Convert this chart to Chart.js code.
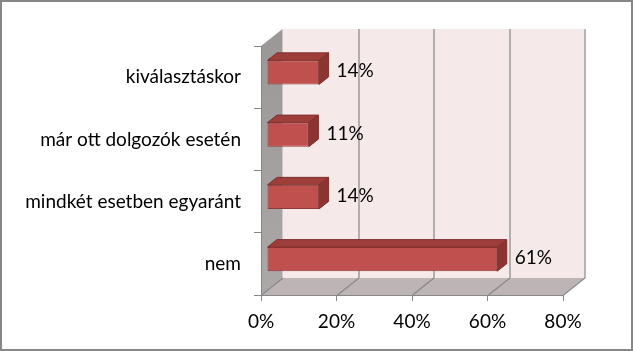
<!DOCTYPE html>
<html><head><meta charset="utf-8">
<script src="https://cdn.jsdelivr.net/npm/chart.js@4/dist/chart.umd.min.js"></script>
<style>html,body{margin:0;padding:0;background:#fff}</style>
</head><body>
<canvas id="c" width="633" height="351"></canvas>
<script>
// ---- data ----
const categories = ['kiválasztáskor', 'már ott dolgozók esetén', 'mindkét esetben egyaránt', 'nem'];
const values = [0.138, 0.111, 0.138, 0.61];
const valueLabels = ['14%', '11%', '14%', '61%'];
const xTickValues = [0, 0.2, 0.4, 0.6, 0.8];
const xTickLabels = ['0%', '20%', '40%', '60%', '80%'];

// ---- style ----
const FONT = 'Lato';
const FSIZE = 19;
const DEPTH = { x: 21.5, y: -17 };
const BAR_FRONT = 0.28, BAR_BACK = 0.72;
const AXIS_COLOR = '#878787';

const threeD = {
  id: 'threeD',
  beforeDraw(chart) {
    const { ctx, chartArea: a, scales: { x } } = chart;
    const L = a.left, R = a.right, T = a.top, B = a.bottom, dx = DEPTH.x, dy = DEPTH.y;
    ctx.save();
    // back wall
    ctx.fillStyle = '#F5E9E9';
    ctx.fillRect(L + dx, T + dy, R - L, B - T);
    // left wall
    const g = ctx.createLinearGradient(0, T, 0, B);
    g.addColorStop(0, '#9C9898');
    g.addColorStop(1, '#ADA8A8');
    ctx.fillStyle = g;
    ctx.beginPath();
    ctx.moveTo(L, T); ctx.lineTo(L + dx, T + dy); ctx.lineTo(L + dx, B + dy); ctx.lineTo(L, B); ctx.closePath();
    ctx.fill();
    // floor
    ctx.fillStyle = '#BDB5B5';
    ctx.beginPath();
    ctx.moveTo(L, B); ctx.lineTo(L + dx, B + dy); ctx.lineTo(R + dx, B + dy); ctx.lineTo(R, B); ctx.closePath();
    ctx.fill();
    // grid lines
    ctx.strokeStyle = AXIS_COLOR;
    ctx.lineWidth = 1.2;
    xTickValues.forEach((v, i) => {
      const px = Math.round(x.getPixelForValue(v)) + 0.5;
      ctx.beginPath();
      ctx.moveTo(px, B);
      ctx.lineTo(px + dx, B + dy);
      if (i > 0) ctx.lineTo(px + dx, T + dy);
      ctx.stroke();
    });
    ctx.restore();
  },
  beforeDatasetDraw(chart) {
    chart.ctx.save();
    chart.ctx.translate(DEPTH.x * BAR_FRONT, DEPTH.y * BAR_FRONT);
  },
  afterDatasetDraw(chart, args) {
    const ctx = chart.ctx;
    const bx = DEPTH.x * (BAR_BACK - BAR_FRONT), by = DEPTH.y * (BAR_BACK - BAR_FRONT);
    args.meta.data.forEach(el => {
      const h = el.height, top = el.y - h / 2, bot = el.y + h / 2;
      ctx.lineWidth = 1;
      ctx.strokeStyle = '#7F302E';
      // top face
      ctx.fillStyle = '#9E3E3B';
      ctx.beginPath();
      ctx.moveTo(el.base, top); ctx.lineTo(el.x, top); ctx.lineTo(el.x + bx, top + by); ctx.lineTo(el.base + bx, top + by); ctx.closePath();
      ctx.fill(); ctx.stroke();
      // side face
      ctx.fillStyle = '#8B3431';
      ctx.beginPath();
      ctx.moveTo(el.x, top); ctx.lineTo(el.x + bx, top + by); ctx.lineTo(el.x + bx, bot + by); ctx.lineTo(el.x, bot); ctx.closePath();
      ctx.fill(); ctx.stroke();
    });
    ctx.restore();
  },
  afterDatasetsDraw(chart) {
    const ctx = chart.ctx;
    const meta = chart.getDatasetMeta(0);
    ctx.save();
    ctx.font = FSIZE + 'px ' + FONT;
    ctx.fillStyle = '#000';
    ctx.textAlign = 'left';
    ctx.textBaseline = 'middle';
    meta.data.forEach((el, i) => {
      const px = el.x + DEPTH.x * BAR_BACK + 8;
      const py = el.y + DEPTH.y * BAR_FRONT - 1;
      ctx.fillText(valueLabels[i], px, py);
    });
    ctx.restore();
  },
  afterDraw(chart) {
    const ctx = chart.ctx;
    ctx.save();
    ctx.strokeStyle = '#878787';
    ctx.lineWidth = 2;
    ctx.strokeRect(1, 1, chart.width - 2, chart.height - 2);
    ctx.restore();
  }
};

new Chart(document.getElementById('c'), {
  type: 'bar',
  data: {
    labels: categories,
    datasets: [{
      data: values,
      backgroundColor: '#C0504D',
      borderColor: '#8E3A38',
      borderWidth: 1,
      borderSkipped: false,
      barPercentage: 0.386,
      categoryPercentage: 1
    }]
  },
  options: {
    indexAxis: 'y',
    responsive: false,
    animation: false,
    layout: { padding: { top: 46, right: 70, left: 0, bottom: 0 } },
    plugins: { legend: { display: false }, tooltip: { enabled: false } },
    scales: {
      x: {
        min: 0, max: 0.8,
        afterBuildTicks: s => { s.ticks = xTickValues.map(v => ({ value: v })); },
        ticks: {
          callback: (v, i) => xTickLabels[i],
          font: { family: FONT, size: FSIZE },
          color: '#000', padding: 9, maxRotation: 0, autoSkip: false
        },
        grid: { drawOnChartArea: false, tickLength: 6, color: AXIS_COLOR },
        border: { color: AXIS_COLOR, width: 1 },
        afterFit: s => { s.height = 56; }
      },
      y: {
        ticks: { font: { family: FONT, size: FSIZE }, color: '#000', padding: 13 },
        grid: { drawOnChartArea: false, tickLength: 7, color: AXIS_COLOR, offset: true },
        border: { color: AXIS_COLOR, width: 1 },
        afterFit: s => { s.width = 261; }
      }
    }
  },
  plugins: [threeD]
});
</script>
</body></html>
